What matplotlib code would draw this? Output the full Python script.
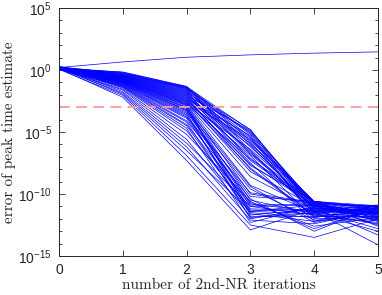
import numpy as np
import matplotlib
matplotlib.use("Agg")
import matplotlib.pyplot as plt
from matplotlib.ticker import FixedLocator, NullFormatter

plt.rcParams['mathtext.fontset'] = 'custom'
plt.rcParams['mathtext.rm'] = 'Liberation Sans'
plt.rcParams['mathtext.it'] = 'Liberation Sans:italic'
plt.rcParams['mathtext.bf'] = 'Liberation Sans:bold'
plt.rcParams['font.family'] = ['Liberation Sans', 'DejaVu Sans']

iterations = [0, 1, 2, 3, 4, 5]

# log10 of the error, one list per iteration (one entry per run)
e0 = [0.10, 0.05, 0.18, 0.12, 0.22, 0.08, 0.15, 0.25,
      0.11, 0.19, 0.06, 0.23, 0.14, 0.09, 0.27, 0.17, 0.12, 0.21, 0.04, 0.16,
      0.26, 0.13, 0.20, 0.07, 0.24, 0.15, 0.10, 0.18,
      0.22, 0.09, 0.14, 0.28, 0.11, 0.19, 0.06, 0.23, 0.16, 0.12, 0.25, 0.08,
      0.20, 0.13, 0.17, 0.05, 0.21, 0.15, 0.27, 0.10, 0.18, 0.24,
      0.12, 0.19, 0.07, 0.22, 0.14, 0.26, 0.09, 0.16, 0.20, 0.11]
e1 = [-2.20, -2.05, -1.95, -1.85, -1.75, -1.62, -1.55, -1.45,
      -1.40, -1.36, -1.31, -1.29, -1.24, -1.22, -1.17, -1.15, -1.13, -1.09, -1.07, -1.05,
      -1.01, -1.00, -0.97, -0.96, -0.93, -0.92, -0.90, -0.87,
      -0.86, -0.83, -0.82, -0.79, -0.78, -0.75, -0.74, -0.72, -0.69, -0.68, -0.65, -0.64,
      -0.62, -0.59, -0.58, -0.56, -0.53, -0.52, -0.50, -0.47, -0.46, -0.44,
      -0.42, -0.39, -0.37, -0.35, -0.31, -0.29, -0.25, -0.22, -0.19, -0.16]
e2 = [-7.30, -6.90, -6.50, -6.20, -5.90, -5.60, -5.20, -4.90,
      -4.70, -4.50, -4.40, -4.20, -4.10, -3.90, -3.80, -3.70, -3.60, -3.50, -3.40, -3.30,
      -3.25, -3.20, -3.10, -3.05, -3.00, -2.90, -2.85, -2.80,
      -2.75, -2.70, -2.66, -2.60, -2.55, -2.50, -2.46, -2.40, -2.35, -2.30,
      -2.25, -2.20, -2.14, -2.10, -2.05, -2.00, -1.95, -1.90, -1.85, -1.80,
      -1.75, -1.70, -1.65, -1.60, -1.55, -1.50, -1.47, -1.44, -1.41, -1.38, -1.35, -1.32]
e3 = [-12.9, -12.5, -11.4, -12.1, -11.0, -11.8, -10.6, -11.3,
      -12.3, -11.6, -10.9, -11.9, -10.4, -11.2, -9.9, -11.5, -10.7, -12.0, -10.2, -11.0,
      -9.6, -10.8, -11.4, -9.4, -10.5, -11.7, -10.0, -9.3,
      -7.2, -8.6, -6.4, -7.9, -5.6, -8.2, -6.9, -7.6, -5.3, -7.7,
      -6.1, -8.0, -5.9, -7.1, -4.9, -6.6, -7.5, -5.5, -6.8, -5.0,
      -7.3, -5.8, -6.2, -4.8, -6.7, -5.4, -6.0, -5.2, -6.5, -5.1, -4.85, -5.7]
e4 = [-11.2, -13.5, -11.6, -12.4, -10.9, -11.8, -12.8, -11.4,
      -11.0, -12.2, -10.8, -11.5, -13.0, -11.3, -10.7, -11.9, -12.6, -11.1, -10.6, -11.7,
      -12.1, -11.4, -10.9, -12.3, -11.6, -11.2, -10.8, -11.5,
      -10.6, -11.3, -10.8, -11.7, -10.7, -11.0, -12.0, -10.9, -11.4, -10.6,
      -11.2, -11.8, -10.7, -11.1, -10.8, -11.5, -12.2, -10.6, -11.0, -11.3,
      -10.9, -11.6, -10.7, -11.2, -10.8, -11.9, -10.6, -11.1, -11.4, -10.7, -11.0, -10.6]
e5 = [-11.5, -12.0, -13.0, -11.3, -12.5, -11.8, -11.1, -14.1,
      -11.6, -10.9, -12.2, -11.4, -11.0, -12.8, -11.7, -11.2, -11.9, -13.3, -11.1, -11.5,
      -12.1, -10.95, -11.8, -11.3, -12.4, -11.0, -11.6, -12.0,
      -11.2, -11.7, -11.0, -12.3, -11.4, -10.9, -11.9, -11.5, -11.1, -12.6,
      -11.3, -11.8, -11.0, -11.6, -12.2, -11.2, -11.5, -10.95, -11.9, -11.3,
      -11.7, -11.1, -12.0, -11.4, -11.6, -10.9, -11.2, -11.8, -11.5, -11.0, -12.1, -11.3]

# one run that diverges
diverging = [0.20, 0.65, 1.03, 1.22, 1.36, 1.46]

threshold = 1e-3

fig = plt.figure(figsize=(3.82, 2.95), dpi=100)
ax = fig.add_axes([0.1545, 0.1322, 0.835, 0.8407])

runs = np.array([e0, e1, e2, e3, e4, e5])
for k in range(runs.shape[1]):
    ax.plot(iterations, 10.0 ** runs[:, k], color='#0000ff', lw=0.5)
ax.plot(iterations, 10.0 ** np.array(diverging), color='#0000ff', lw=0.5)

ax.axhline(threshold, color='#ff9a9a', lw=1.3, dashes=(6, 3.5))

ax.set_yscale('log')
ax.set_xlim(0, 5)
ax.set_ylim(1e-15, 1e5)
ax.set_xticks(iterations)
ax.yaxis.set_major_locator(FixedLocator([1e-15, 1e-10, 1e-5, 1e0, 1e5]))
ax.yaxis.set_minor_locator(FixedLocator([10.0 ** p for p in range(-15, 6)]))
ax.yaxis.set_minor_formatter(NullFormatter())
ax.set_yticklabels([r'$10^{-15}$', r'$10^{-10}$', r'$10^{-5}$', r'$10^{0}$', r'$10^{5}$'])

axc = '#262626'
for s in ax.spines.values():
    s.set_color(axc)
    s.set_linewidth(0.7)
ax.tick_params(which='both', direction='in', top=True, right=True, colors=axc,
               labelsize=10, width=0.6)
ax.tick_params(which='major', length=4, pad=5)
ax.tick_params(which='minor', length=2.5)

ax.set_xlabel('number of 2nd-NR iterations', family='cmr10', fontsize=11,
              color='#262626', labelpad=1)
ax.set_ylabel('error of peak time estimate', family='cmr10', fontsize=11,
              color='#262626', labelpad=2)

fig.savefig('out.png', dpi=100)
